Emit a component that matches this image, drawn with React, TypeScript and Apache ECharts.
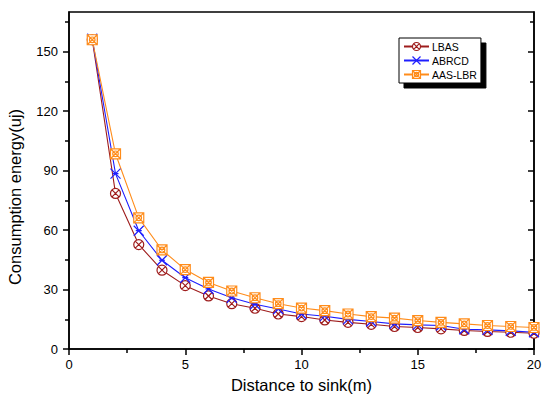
import React, { useEffect, useRef } from "react";
import * as echarts from "echarts";

const distances = [1, 2, 3, 4, 5, 6, 7, 8, 9, 10, 11, 12, 13, 14, 15, 16, 17, 18, 19, 20];
const lbas = [156, 78.5, 52.7, 39.8, 32, 26.8, 22.9, 20.6, 17.7, 16.4, 14.7, 13.5, 12.5, 11.4, 10.9, 10.2, 9.4, 8.9, 8.5, 8];
const abrcd = [156.5, 88.5, 59.7, 44.8, 36, 30.3, 25.9, 22.6, 20.2, 17.7, 16.6, 15, 13.9, 12.7, 12.2, 11.9, 10, 9.7, 9.2, 8.5];
const aasLbr = [156, 98.5, 66.2, 50, 40.1, 33.6, 29.3, 25.9, 22.9, 20.7, 19.4, 17.7, 16.4, 15.6, 14.4, 13.5, 12.7, 11.9, 11.4, 10.9];
const seriesNames = ["LBAS", "ABRCD", "AAS-LBR"];
const yMajor = [0, 30, 60, 90, 120, 150];
const yMinor = [15, 45, 75, 105, 135, 165];

const FONT = "Liberation Sans, Arial, sans-serif";
const COLORS = ["#9e1c1c", "#1e1eff", "#ff8c1a"];

const SYM_CIRCLE_X =
  "path://M0,-5A5,5 0 1,1 0,5A5,5 0 1,1 0,-5ZM-3.5,-3.5L3.5,3.5M3.5,-3.5L-3.5,3.5";
const SYM_STAR_X = "path://M-5,-5L5,5M5,-5L-5,5M-3,0L3,0";
const SYM_SQUARE_X =
  "path://M-4.5,-4.5L4.5,-4.5L4.5,4.5L-4.5,4.5ZM-4.5,-4.5L4.5,4.5M4.5,-4.5L-4.5,4.5M0,-2.5A2.5,2.5 0 1,1 0,2.5A2.5,2.5 0 1,1 0,-2.5Z";
const SYMBOLS = [SYM_CIRCLE_X, SYM_STAR_X, SYM_SQUARE_X];

function makeSeries(name: string, vals: number[], color: string, symbol: string) {
  return {
    name,
    type: "line",
    data: distances.map((d, i) => [d, vals[i]]),
    symbol,
    symbolSize: 10,
    color,
    lineStyle: { color, width: 1.1 },
    itemStyle: { color: "#fff", borderColor: color, borderWidth: 1.2 },
  };
}

export default function App() {
  const ref = useRef<HTMLDivElement>(null);
  useEffect(() => {
    if (!ref.current) return;
    const chart = echarts.init(ref.current, null, { renderer: "svg" });
    const tickLabel = { color: "#000", fontFamily: FONT, fontSize: 13 };
    const axisLine = { show: true, lineStyle: { color: "#000", width: 1.5 } };
    const tickStyle = { color: "#000", width: 1.5 };
    chart.setOption({
      animation: false,
      backgroundColor: "#fff",
      grid: { left: 69, right: 16, top: 12, bottom: 47, show: true, borderColor: "#000", borderWidth: 1.5, backgroundColor: "transparent" },
      graphic: [
        {
          type: "text",
          x: 15,
          y: 197,
          rotation: Math.PI / 2,
          style: {
            text: "Consumption energy(uj)",
            fill: "#000",
            font: "16.5px Liberation Sans, Arial, sans-serif",
            textAlign: "center",
            textVerticalAlign: "middle",
          },
        },
      ],
      legend: {
        orient: "vertical",
        left: 399,
        top: 38,
        itemWidth: 25,
        itemHeight: 10,
        itemGap: 3,
        padding: [3, 4, 3, 4],
        backgroundColor: "#fff",
        borderColor: "#000",
        borderWidth: 1,
        shadowColor: "#000",
        shadowBlur: 0,
        shadowOffsetX: 5,
        shadowOffsetY: 5,
        textStyle: { color: "#000", fontFamily: FONT, fontSize: 10.5, padding: [0, 0, 0, -2] },
        data: seriesNames.map((n, i) => ({
          name: n,
          itemStyle: { color: "#fff", borderColor: COLORS[i], borderWidth: 1.2 },
        })),
      },
      xAxis: {
        type: "value",
        min: 0,
        max: 20,
        interval: 5,
        name: "Distance to sink(m)",
        nameLocation: "middle",
        nameGap: 25,
        nameTextStyle: { color: "#000", fontFamily: FONT, fontSize: 16.5 },
        axisLine,
        axisTick: { show: true, length: 6, lineStyle: tickStyle },
        minorTick: { show: true, splitNumber: 2, length: 4, lineStyle: tickStyle },
        axisLabel: { ...tickLabel, margin: 9 },
        splitLine: { show: false },
      },
      yAxis: [
        {
          type: "value",
          min: 0,
          max: 170,
          position: "left",
          axisLine,
          axisTick: { show: true, length: 6, customValues: yMajor, lineStyle: tickStyle },
          axisLabel: { ...tickLabel, margin: 11, customValues: yMajor },
          splitLine: { show: false },
        },
        {
          type: "value",
          min: 0,
          max: 170,
          position: "left",
          axisLine: { show: false },
          axisTick: { show: true, length: 4, customValues: yMinor, lineStyle: tickStyle },
          axisLabel: { show: false },
          splitLine: { show: false },
        },
        {
          type: "value",
          min: 0,
          max: 170,
          position: "right",
          axisLine,
          axisTick: { show: true, inside: true, length: 6, customValues: yMajor, lineStyle: tickStyle },
          axisLabel: { show: false },
          splitLine: { show: false },
        },
        {
          type: "value",
          min: 0,
          max: 170,
          position: "right",
          axisLine: { show: false },
          axisTick: { show: true, inside: true, length: 4, customValues: yMinor, lineStyle: tickStyle },
          axisLabel: { show: false },
          splitLine: { show: false },
        },
      ],
      series: [
        makeSeries(seriesNames[0], lbas, COLORS[0], SYMBOLS[0]),
        makeSeries(seriesNames[1], abrcd, COLORS[1], SYMBOLS[1]),
        makeSeries(seriesNames[2], aasLbr, COLORS[2], SYMBOLS[2]),
      ],
    });
    return () => chart.dispose();
  }, []);
  return <div ref={ref} style={{ width: 550, height: 398, position: "fixed", left: 0, top: 0 }} />;
}
